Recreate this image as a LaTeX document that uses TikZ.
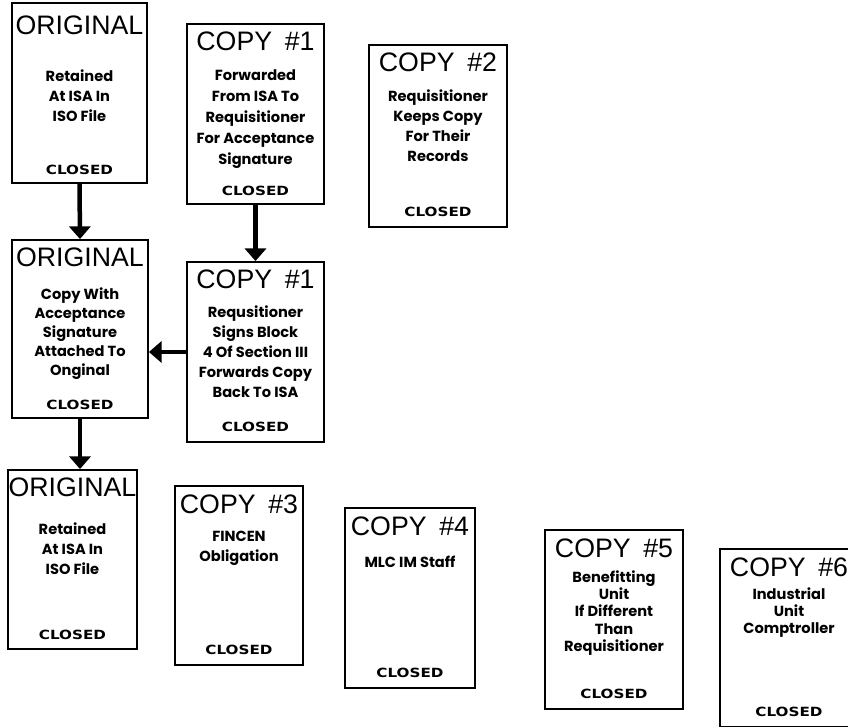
\documentclass[tikz,border=0pt]{standalone}
\usepackage{fontspec}
\usepackage{tikz}
\usetikzlibrary{positioning,arrows.meta}
\newfontfamily\titlefont{Liberation Sans}
\newfontfamily\bodyfont{Poppins}
\newfontfamily\closedfont[FakeStretch=1.2]{DejaVu Sans}

\begin{document}
\begin{tikzpicture}[x=0.025cm,y=-0.025cm,every node/.style={inner sep=0pt}]
\tikzstyle{doc}=[draw,line width=1.3pt,minimum width=3.4cm,minimum height=4.5cm]
\tikzstyle{ttl}=[font=\titlefont\fontsize{19}{19}\selectfont]
\tikzstyle{body}=[font=\bodyfont\bfseries\fontsize{10.4}{14.2}\selectfont,align=center]
\tikzstyle{tight}=[font=\bodyfont\bfseries\fontsize{10.4}{12.2}\selectfont,align=center]
\tikzstyle{closed}=[font=\closedfont\bfseries\fontsize{9}{9}\selectfont]
\tikzstyle{arr}=[-{Triangle[width=15pt,length=9pt]},line width=3.2pt]
\useasboundingbox (0,0) rectangle (848,727);
\clip (0,0) rectangle (848,727);
% top row
\node[doc,minimum width=3.375cm] (o1) at (79.5,93) {};
\node[ttl,below=9.5pt of o1.north] (o1t) {ORIGINAL};
\node[body,below=48pt of o1.north] (o1b) {Retained\\At ISA In\\ISO File};
\node[closed,above=6.5pt of o1.south] (o1c) {CLOSED};
\node[doc,minimum width=3.425cm] (c1a) at (255.5,114) {};
\node[ttl,below=6.4pt of c1a.north] (c1at) {COPY\hspace{9pt}\#1};
\node[body,font=\bodyfont\bfseries\fontsize{10.4}{15}\selectfont,below=33pt of c1a.north] (c1ab) {Forwarded\\From ISA To\\Requisitioner\\For Acceptance\\Signature};
\node[closed,above=6.5pt of c1a.south] (c1ac) {CLOSED};
\node[doc,minimum width=3.45cm,minimum height=4.55cm] (c2) at (438,136) {};
\node[ttl,below=6.4pt of c2.north] (c2t) {COPY\hspace{9pt}\#2};
\node[body,below=32.5pt of c2.north] (c2b) {Requisitioner\\Keeps Copy\\For Their\\Records};
\node[closed,above=7.5pt of c2.south] (c2c) {CLOSED};
% middle row
\node[doc,minimum height=4.45cm] (o2) at (80,329) {};
\node[ttl,below=6pt of o2.north] (o2t) {ORIGINAL};
\node[body,font=\bodyfont\bfseries\fontsize{10.4}{13.5}\selectfont,below=34.5pt of o2.north] (o2b) {Copy With\\Acceptance\\Signature\\Attached To\\Onginal};
\node[closed,above=6.5pt of o2.south] (o2c) {CLOSED};
\node[doc,minimum width=3.425cm] (c1b) at (255.5,352) {};
\node[ttl,below=6.4pt of c1b.north] (c1bt) {COPY\hspace{9pt}\#1};
\node[body,below=31.7pt of c1b.north] (c1bb) {Requsitioner\\Signs Block\\4 Of Section III\\Forwards Copy\\Back To ISA};
\node[closed,above=7.5pt of c1b.south] (c1bc) {CLOSED};
% bottom row
\node[doc,minimum width=3.225cm,minimum height=4.475cm] (o3) at (72.5,559.5) {};
\node[ttl,below=6pt of o3.north] (o3t) {ORIGINAL};
\node[body,below=38pt of o3.north] (o3b) {Retained\\At ISA In\\ISO File};
\node[closed,above=7pt of o3.south] (o3c) {CLOSED};
\node[doc,minimum width=3.2cm,minimum height=4.475cm] (c3) at (239,575.5) {};
\node[ttl,below=6.4pt of c3.north] (c3t) {COPY\hspace{9pt}\#3};
\node[body,below=32.4pt of c3.north] (c3b) {FINCEN\\Obligation};
\node[closed,above=7.5pt of c3.south] (c3c) {CLOSED};
\node[doc,minimum width=3.25cm] (c4) at (410,598) {};
\node[ttl,below=6.4pt of c4.north] (c4t) {COPY\hspace{9pt}\#4};
\node[body,below=34.5pt of c4.north] (c4b) {MLC IM Staff};
\node[closed,above=8pt of c4.south] (c4c) {CLOSED};
\node[doc,minimum width=3.45cm,minimum height=4.475cm] (c5) at (614,619.5) {};
\node[ttl,below=6.4pt of c5.north] (c5t) {COPY\hspace{9pt}\#5};
\node[tight,below=29.6pt of c5.north] (c5b) {Benefitting\\Unit\\If Different\\Than\\Requisitioner};
\node[closed,above=8pt of c5.south] (c5c) {CLOSED};
\node[doc,minimum width=3.45cm,minimum height=4.45cm] (c6) at (789,638) {};
\node[ttl,below=6.4pt of c6.north] (c6t) {COPY\hspace{9pt}\#6};
\node[tight,below=28pt of c6.north] (c6b) {Industrial\\Unit\\Comptroller};
\node[closed,above=8pt of c6.south] (c6c) {CLOSED};
% arrows
\draw[arr] (o1.south) -- (o2.north);
\draw[arr] (c1a.south) -- (c1b.north);
\draw[arr] (c1b.west) -- (c1b.west -| o2.east);
\draw[arr] (o2.south) -- (o2.south |- o3.north);
\end{tikzpicture}
\end{document}
